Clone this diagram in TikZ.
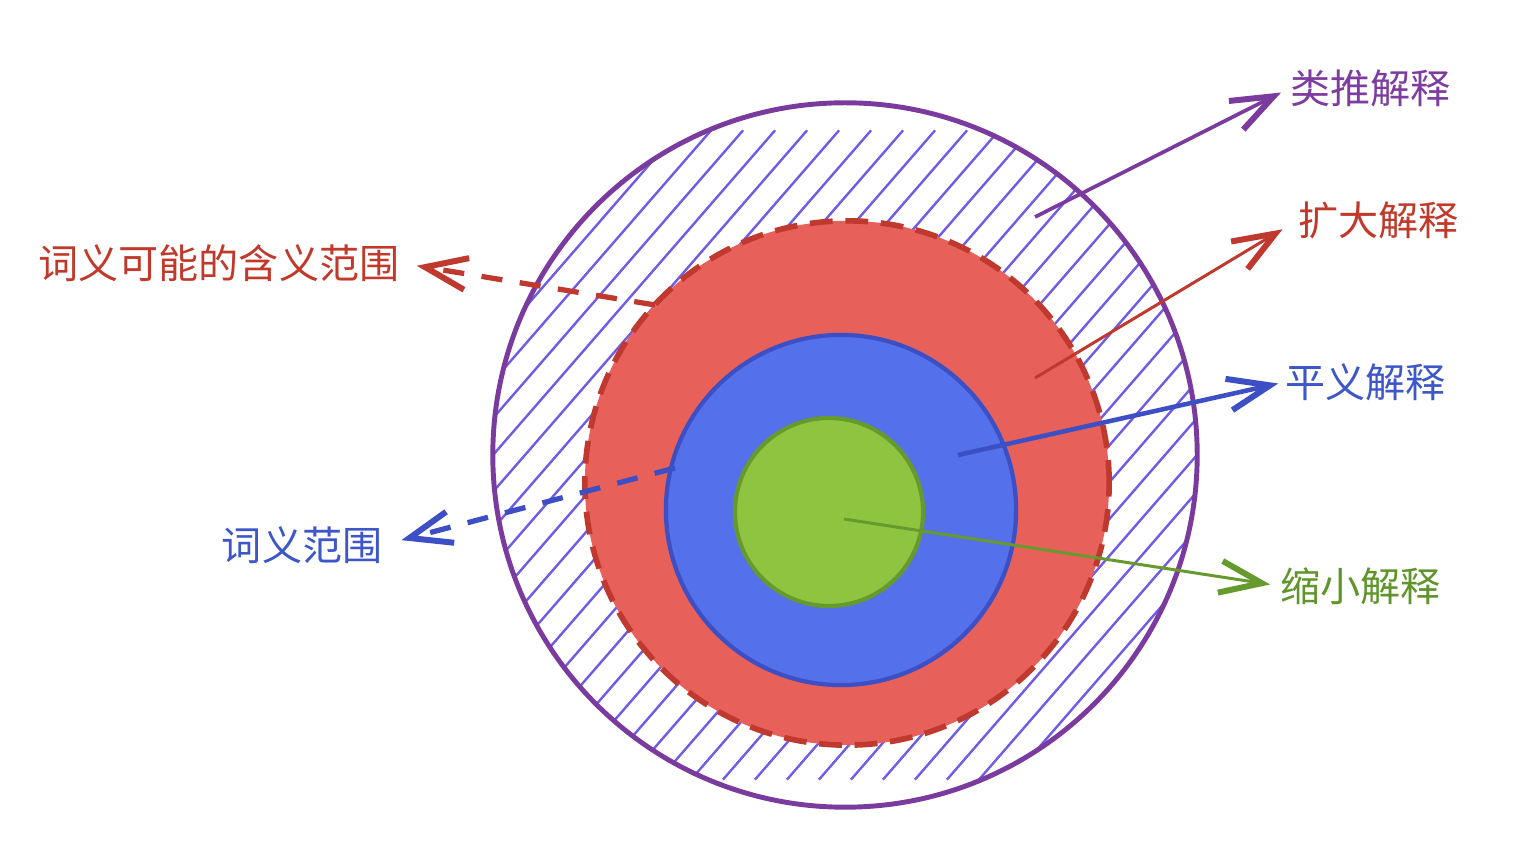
\documentclass[tikz,border=0pt]{standalone}
\usepackage{fontspec}
\newfontfamily\cjk{Noto Sans CJK SC}
\usetikzlibrary{arrows.meta}
\definecolor{pur}{HTML}{7B3A9E}
\definecolor{hatchc}{HTML}{6E5BE8}
\definecolor{redf}{HTML}{E8605A}
\definecolor{redd}{HTML}{C0392F}
\definecolor{bluef}{HTML}{5470EA}
\definecolor{blued}{HTML}{3C4FC4}
\definecolor{greenf}{HTML}{8FC441}
\definecolor{greend}{HTML}{669A2C}
\definecolor{purT}{HTML}{7E3CA0}
\definecolor{redT}{HTML}{C0392B}
\definecolor{blueT}{HTML}{3D56C8}
\definecolor{greenT}{HTML}{5F952A}
\begin{document}
\begin{tikzpicture}[x=0.01cm,y=-0.01cm,
  lab/.style={font=\cjk\fontsize{11.4pt}{13pt}\selectfont, inner sep=0pt},
  barb/.style={-{Straight Barb[length=0.42cm,width=0.32cm,line width=1.7pt]}},
  hatch/.style={draw=hatchc, line width=0.68pt},
  ring/.style={circle, inner sep=0pt, outer sep=0pt}]
\useasboundingbox (0,0) rectangle (1540,868);
\begin{scope}
  \clip (845,455) circle [radius=352];
  \foreach \k in {-16,...,16}
    \draw[hatch] ({845+32*\k-430*0.656},{455+430*0.755}) -- ({845+32*\k+430*0.656},{455-430*0.755});
\end{scope}
\node[ring, draw=pur, line width=1.4pt, minimum size=7.04cm] (outer) at (845,455) {};
\node[ring, fill=redf, draw=redd, line width=1.6pt, dash pattern=on 6.5pt off 3.6pt, minimum size=5.24cm] (wide) at (847,483) {};
\node[ring, fill=bluef, draw=blued, line width=1.2pt, minimum size=3.5cm] (plain) at (841,510) {};
\node[ring, fill=greenf, draw=greend, line width=1.2pt, minimum size=1.88cm] (narrow) at (829,512) {};

\coordinate (s1) at (1035,217);
\coordinate (s2) at (1035,378);
\coordinate (s3) at (958,455);
\coordinate (s4) at (844,519);
\coordinate (s5) at (655,305);
\coordinate (s6) at (675,468);

\node[lab, text=purT, anchor=west] (l1) at (1290,88) {类推解释};
\node[lab, text=redT, anchor=west] (l2) at (1298,220) {扩大解释};
\node[lab, text=blueT, anchor=west] (l3) at (1285,382) {平义解释};
\node[lab, text=greenT, anchor=west] (l4) at (1280,586) {缩小解释};
\node[lab, text=redT, anchor=east] (l5) at (400,263) {词义可能的含义范围};
\node[lab, text=blueT, anchor=east] (l6) at (383,545) {词义范围};

\draw[barb, draw=pur, line width=1.05pt, shorten >=0.1cm] (s1) -- (l1.west);
\draw[barb, draw=redd, line width=0.85pt, shorten >=0.18cm] (s2) -- (l2.west);
\draw[barb, draw=blued, line width=1.3pt, shorten >=0.07cm] (s3) -- (l3.west);
\draw[barb, draw=greend, line width=0.85pt, shorten >=0.1cm] (s4) -- (l4.west);
\draw[barb, draw=redd, line width=1.5pt, dash pattern=on 6pt off 5pt, shorten >=0.17cm] (s5) -- (l5.east);
\draw[barb, draw=blued, line width=1.5pt, dash pattern=on 6pt off 5pt, shorten >=0.19cm] (s6) -- (l6.east);
\end{tikzpicture}
\end{document}
